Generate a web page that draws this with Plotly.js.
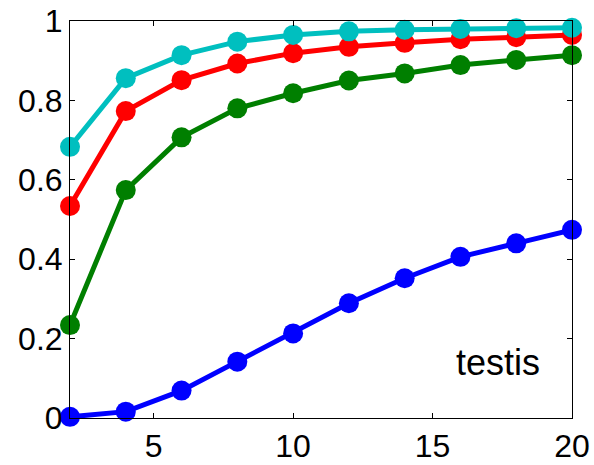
<!DOCTYPE html>
<html>
<head>
<meta charset="utf-8">
<script src="https://cdn.plot.ly/plotly-3.0.1.min.js"></script>
<style>
  html, body { margin: 0; padding: 0; background: #fff; }
  #chart { width: 594px; height: 465px; }
</style>
</head>
<body>
<div id="chart"></div>
<script>
// Number of clusters / components along the x axis
const xValues = [2, 4, 6, 8, 10, 12, 14, 16, 18, 20];

// Fraction reached for each curve
const blueValues  = [0.003, 0.016, 0.069, 0.142, 0.213, 0.289, 0.352, 0.406, 0.440, 0.474];
const greenValues = [0.234, 0.574, 0.707, 0.780, 0.818, 0.850, 0.868, 0.889, 0.902, 0.914];
const redValues   = [0.534, 0.773, 0.851, 0.893, 0.919, 0.935, 0.945, 0.954, 0.959, 0.965];
const cyanValues  = [0.683, 0.856, 0.914, 0.948, 0.965, 0.974, 0.978, 0.980, 0.982, 0.983];

const xTicks = [5, 10, 15, 20];
const yTicks = [0, 0.2, 0.4, 0.6, 0.8, 1];
const yTickText = ['0', '0.2', '0.4', '0.6', '0.8', '1'];
const tissueLabel = 'testis';

const FONT = 'Liberation Sans, Arial, sans-serif';

function series(y, color) {
  return {
    x: xValues,
    y: y,
    type: 'scatter',
    mode: 'lines+markers',
    line: { color: color, width: 5 },
    marker: { color: color, size: 20 },
    cliponaxis: false,
    showlegend: false,
    hoverinfo: 'x+y'
  };
}

const data = [
  series(blueValues, '#0000FF'),
  series(greenValues, '#007F00'),
  series(redValues, '#FF0000'),
  series(cyanValues, '#00BFBF')
];

const axisCommon = {
  showline: true,
  linecolor: '#000',
  linewidth: 1,
  mirror: 'ticks',
  ticks: 'inside',
  ticklen: 5,
  tickwidth: 1,
  tickcolor: '#000',
  showgrid: false,
  zeroline: false,
  tickfont: { family: FONT, size: 32, color: '#000' }
};

const layout = {
  width: 594,
  height: 465,
  margin: { l: 70, r: 22, t: 21, b: 47 },
  paper_bgcolor: '#fff',
  plot_bgcolor: '#fff',
  xaxis: Object.assign({}, axisCommon, {
    range: [2, 20],
    tickvals: xTicks,
    ticktext: xTicks.map(String)
  }),
  yaxis: Object.assign({}, axisCommon, {
    range: [0, 1],
    tickvals: yTicks,
    ticktext: yTickText
  }),
  annotations: [{
    x: 17.35,
    y: 0.14,
    xref: 'x',
    yref: 'y',
    text: tissueLabel,
    showarrow: false,
    font: { family: FONT, size: 36, color: '#000' }
  }]
};

Plotly.newPlot('chart', data, layout, { displayModeBar: false, staticPlot: true });
</script>
</body>
</html>
